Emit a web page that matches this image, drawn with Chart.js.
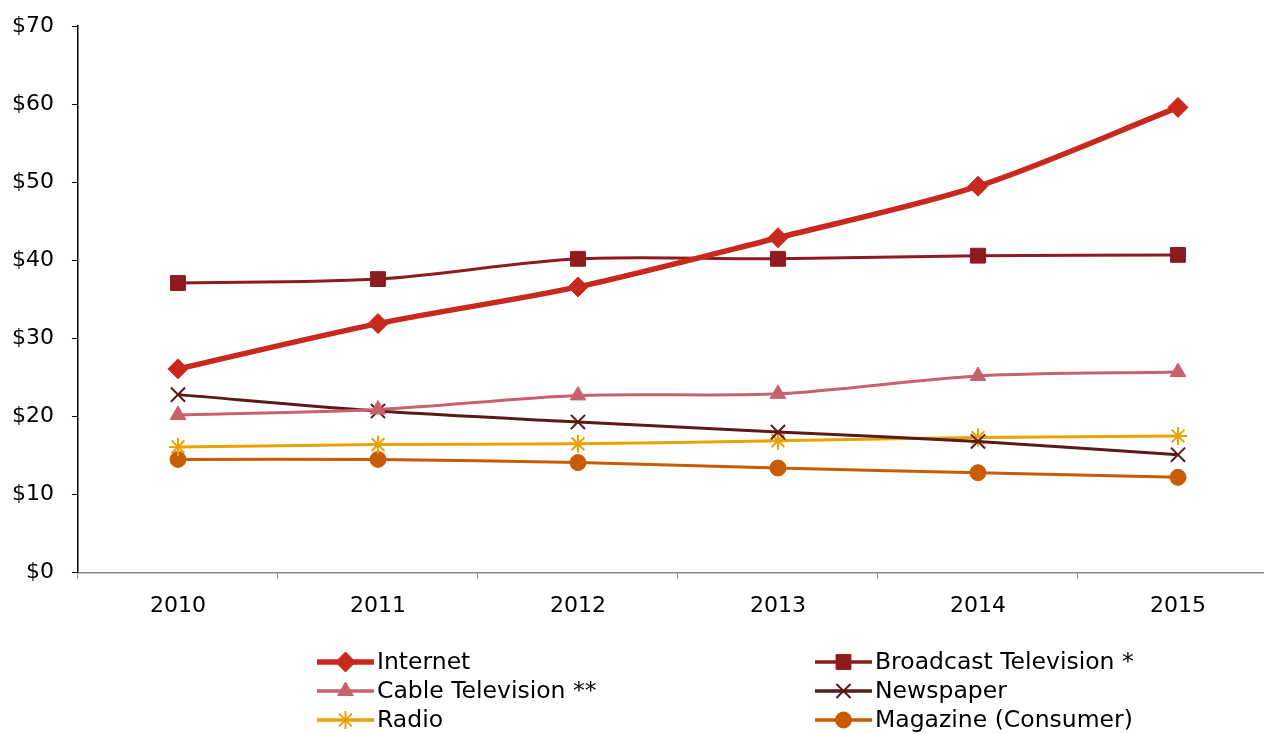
<!DOCTYPE html>
<html>
<head>
<meta charset="utf-8">
<script src="https://cdn.jsdelivr.net/npm/chart.js@4/dist/chart.umd.min.js"></script>
<style>
  html, body { margin: 0; padding: 0; background: #fff; overflow: hidden; }
  #wrap { width: 1307px; height: 739px; position: relative; margin-left: -17px; margin-top: -5px; }
</style>
</head>
<body>
<div id="wrap"><canvas id="main-chart"></canvas></div>
<script>
const years = ['2010', '2011', '2012', '2013', '2014', '2015'];
const seriesNames = ['Internet', 'Broadcast Television *', 'Cable Television **', 'Newspaper', 'Radio', 'Magazine (Consumer)'];
const internet = [26.1, 31.9, 36.6, 42.9, 49.5, 59.6];
const broadcastTv = [37.1, 37.6, 40.2, 40.2, 40.6, 40.7];
const cableTv = [20.2, 20.9, 22.7, 22.9, 25.2, 25.7];
const newspaper = [22.8, 20.7, 19.3, 18.0, 16.8, 15.1];
const radio = [16.1, 16.4, 16.5, 16.9, 17.3, 17.5];
const magazine = [14.5, 14.5, 14.1, 13.4, 12.8, 12.2];
const yTicks = [0, 10, 20, 30, 40, 50, 60, 70];

const FONT = "'DejaVu Sans', Arial, sans-serif";

function makeSet(label, data, color, width, style, radius, pbw){
    return {
        label: label,
        data: data,
        borderColor: color,
        backgroundColor: color,
        borderWidth: width,
        pointStyle: style,
        pointRadius: radius,
        pointBackgroundColor: color,
        pointBorderColor: color,
        pointBorderWidth: pbw,
        tension: 0.3,
        fill: false
    };
}

// two column legend drawn under the chart (canvas is shifted 17px left, 5px up)
const legendPlugin = {
    id: 'twoColLegend',
    afterDraw(chart){
        const ctx = chart.ctx;
        const colX = [334, 832];
        const lineW = 57;
        ctx.save();
        chart.data.datasets.forEach((ds, i) => {
            const col = i % 2;
            const row = Math.floor(i / 2);
            const x0 = colX[col];
            const y = 667 + row * 29;
            ctx.strokeStyle = ds.borderColor;
            ctx.lineWidth = Math.max(ds.borderWidth, 3.5);
            ctx.beginPath();
            ctx.moveTo(x0, y);
            ctx.lineTo(x0 + lineW, y);
            ctx.stroke();
            ctx.fillStyle = ds.pointBackgroundColor;
            ctx.strokeStyle = ds.pointBorderColor;
            ctx.lineWidth = ds.pointBorderWidth;
            Chart.helpers.drawPoint(ctx, {pointStyle: ds.pointStyle, radius: ds.pointRadius, rotation: 0, borderWidth: ds.pointBorderWidth}, x0 + lineW / 2, y);
            ctx.fillStyle = '#000';
            ctx.font = '23.5px ' + FONT;
            ctx.textBaseline = 'middle';
            ctx.textAlign = 'left';
            ctx.fillText(ds.label, x0 + lineW + 3, y + 1);
        });
        ctx.restore();
    }
};

const ctx = document.getElementById('main-chart').getContext('2d');
const chart = new Chart(ctx, {
    type: 'line',
    data: {
        labels: years,
        datasets: [
            makeSet(seriesNames[0], internet, '#C9281C', 5.5, 'rectRot', 10, 1),
            makeSet(seriesNames[1], broadcastTv, '#8E1B1F', 3, 'rect', 10.5, 1),
            makeSet(seriesNames[2], cableTv, '#C9606E', 3, 'triangle', 9, 1),
            makeSet(seriesNames[3], newspaper, '#5B1A18', 3, 'crossRot', 10, 2),
            makeSet(seriesNames[4], radio, '#E8A202', 3, 'star', 9, 2),
            makeSet(seriesNames[5], magazine, '#C85C00', 3, 'circle', 8, 1)
        ]
    },
    options: {
        responsive: true,
        maintainAspectRatio: false,
        animation: false,
        layout: {
            padding: {left: 11, right: 3, top: 7, bottom: 101}
        },
        plugins: {
            legend: {display: false},
            tooltip: {enabled: false}
        },
        scales: {
            x: {
                offset: true,
                border: {color: '#888', width: 1.5},
                grid: {drawOnChartArea: false, tickLength: 6, color: '#888', offset: true},
                ticks: {color: '#000', font: {family: FONT, size: 22}, padding: 14}
            },
            y: {
                min: 0,
                max: 70,
                afterBuildTicks: (axis) => { axis.ticks = yTicks.map(v => ({value: v})); },
                border: {color: '#000', width: 1.5},
                grid: {drawOnChartArea: false, tickLength: 6, color: '#000'},
                ticks: {
                    color: '#000',
                    font: {family: FONT, size: 22},
                    padding: 18,
                    callback: (v) => '$' + v
                }
            }
        }
    },
    plugins: [legendPlugin]
});
</script>
</body>
</html>
